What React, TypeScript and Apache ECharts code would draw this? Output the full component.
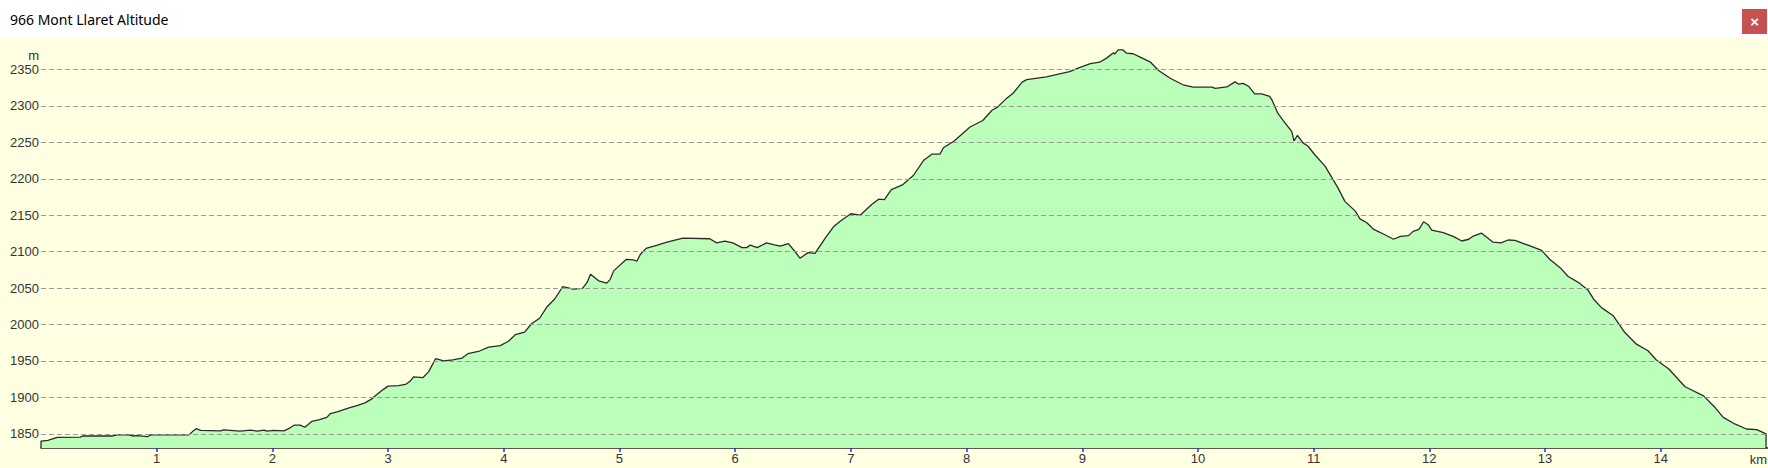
import React, { useEffect, useRef } from "react";
import * as echarts from "echarts";

const titleText = "966 Mont Llaret Altitude";
const baseAltitude = 1830.5;
const topAltitude = 2393.9;
const totalKm = 14.927;
const xTicks = [1, 2, 3, 4, 5, 6, 7, 8, 9, 10, 11, 12, 13, 14];
const yTicks = [1850, 1900, 1950, 2000, 2050, 2100, 2150, 2200, 2250, 2300, 2350];

const distanceKm = [
  0, 0, 0.06, 0.14, 0.34, 0.36, 0.62, 0.66, 0.76, 0.79, 0.83, 0.92, 0.95, 1.28, 1.31, 1.34, 1.38, 1.55, 1.58, 1.72,
  1.81, 1.87, 1.93, 1.95, 2.01, 2.1, 2.14, 2.19, 2.24, 2.28, 2.34, 2.4, 2.47, 2.5, 2.56, 2.61, 2.67, 2.73, 2.8, 2.86,
  2.9, 2.96, 3.0, 3.09, 3.15, 3.19, 3.22, 3.3, 3.35, 3.41, 3.48, 3.56, 3.64, 3.69, 3.79, 3.87, 3.97, 4.04, 4.1, 4.18,
  4.24, 4.31, 4.37, 4.44, 4.51, 4.6, 4.68, 4.72, 4.75, 4.82, 4.89, 4.92, 4.95, 5.06, 5.12, 5.15, 5.18, 5.23, 5.32, 5.41,
  5.55, 5.78, 5.84, 5.91, 5.98, 6.06, 6.1, 6.13, 6.19, 6.27, 6.33, 6.39, 6.46, 6.52, 6.56, 6.63, 6.69, 6.78, 6.85, 6.91,
  7.0, 7.08, 7.18, 7.24, 7.29, 7.35, 7.45, 7.54, 7.63, 7.7, 7.77, 7.8, 7.89, 8.03, 8.14, 8.22, 8.27, 8.35, 8.4, 8.48,
  8.52, 8.69, 8.89, 8.98, 9.07, 9.15, 9.21, 9.27, 9.28, 9.31, 9.35, 9.38, 9.44, 9.5, 9.59, 9.66, 9.76, 9.87, 9.96, 10.12,
  10.15, 10.25, 10.32, 10.35, 10.39, 10.44, 10.49, 10.55, 10.62, 10.64, 10.69, 10.75, 10.81, 10.83, 10.86, 10.91, 10.95, 11.01, 11.1, 11.16,
  11.21, 11.27, 11.36, 11.4, 11.46, 11.52, 11.62, 11.69, 11.75, 11.82, 11.86, 11.91, 11.95, 11.99, 12.02, 12.12, 12.21, 12.28, 12.34, 12.38,
  12.45, 12.55, 12.62, 12.68, 12.74, 12.87, 12.97, 13.04, 13.13, 13.2, 13.29, 13.37, 13.42, 13.49, 13.59, 13.69, 13.79, 13.89, 13.96, 14.07,
  14.21, 14.37, 14.47, 14.54, 14.64, 14.74, 14.83, 14.91, 14.91,
];

const altitudeM = [
  1830.5, 1840, 1841, 1845, 1845.4, 1847, 1847, 1848.6, 1848.6, 1847, 1847.5, 1846, 1848.6, 1848.6, 1853, 1857, 1854.6, 1854, 1855.5, 1853.7,
  1855, 1853.7, 1855, 1853.7, 1854.6, 1854, 1857, 1862, 1862, 1859, 1867, 1869, 1872.6, 1877.6, 1880, 1882.7, 1886, 1888.7, 1892.4, 1898,
  1903.5, 1911, 1915.4, 1916, 1917.7, 1922, 1928, 1927, 1935, 1953, 1950, 1951.4, 1954, 1960, 1963.6, 1969, 1971, 1977, 1986, 1989.5,
  2001, 2008.6, 2023.6, 2035, 2052, 2048.6, 2049.5, 2057.7, 2069, 2060, 2056.8, 2062, 2073.6, 2089.5, 2088.6, 2086.8, 2096, 2104.5, 2108.6, 2113,
  2118.6, 2117.7, 2112, 2114.5, 2112, 2105.5, 2105.5, 2109, 2105.5, 2112, 2109.5, 2107.7, 2111, 2099.5, 2091, 2098.6, 2097.7, 2119, 2134, 2142,
  2152, 2150, 2164.6, 2172, 2171.5, 2185, 2192, 2204.5, 2225.5, 2233.8, 2233.8, 2242.5, 2251.6, 2271, 2280, 2294, 2298.7, 2311, 2317, 2332.6,
  2336, 2340, 2347, 2353, 2358, 2360, 2365.6, 2373, 2371, 2377, 2377, 2372.5, 2371.6, 2367, 2360, 2348.6, 2338, 2329, 2325.7, 2325.7,
  2324, 2326, 2333, 2330, 2331, 2326.6, 2316.5, 2316.5, 2313, 2308, 2290, 2277, 2265, 2252, 2259.5, 2249, 2245, 2233, 2217, 2201,
  2187.5, 2169, 2155.6, 2145, 2139.6, 2130.5, 2122.8, 2117, 2121, 2122, 2127.8, 2130.5, 2141, 2137, 2129.6, 2126, 2120.7, 2114.6, 2117, 2121.4,
  2125.5, 2113, 2112, 2116, 2115.5, 2107.8, 2101.8, 2089.5, 2078, 2065.8, 2057.5, 2047.5, 2034.7, 2022.8, 2012, 1989, 1973, 1964, 1951.6, 1939,
  1914.6, 1902, 1886, 1872.6, 1863.5, 1856.6, 1855.7, 1850, 1830.5,
];

const profile = distanceKm.map((km, i) => [km, altitudeM[i]]);
const labelFont = "'Liberation Sans', Arial, sans-serif";

export default function App() {
  const ref = useRef<HTMLDivElement>(null);
  useEffect(() => {
    document.body.style.margin = "0";
    document.body.style.overflow = "hidden";
    const chart = echarts.init(ref.current!, undefined, { renderer: "svg" });
    chart.setOption({
      animation: false,
      backgroundColor: "#FFFFE1",
      title: {
        text: titleText,
        left: 5,
        top: 7,
        textStyle: { fontFamily: "'Noto Sans', sans-serif", fontSize: 14, fontWeight: "normal", color: "#000" },
      },
      grid: { left: 41, right: 0, top: 37.5, bottom: 20 },
      xAxis: {
        type: "value",
        min: 0,
        max: totalKm,
        interval: 1,
        splitLine: { show: false },
        axisLine: { show: true, onZero: false, lineStyle: { color: "#222", width: 1.5 } },
        axisTick: { show: true, customValues: xTicks, length: 4, lineStyle: { color: "#2a2ae0", width: 1.5 } },
        axisLabel: {
          customValues: xTicks,
          margin: 4,
          color: "#333",
          fontFamily: labelFont,
          fontSize: 13,
        },
      },
      yAxis: {
        type: "value",
        min: baseAltitude,
        max: topAltitude,
        axisLine: { show: false },
        axisTick: { show: false },
        axisLabel: {
          customValues: yTicks,
          margin: 2,
          color: "#333",
          fontFamily: labelFont,
          fontSize: 13,
          formatter: (v: number) => String(v),
        },
        splitLine: { show: false },
      },
      series: [
        {
          type: "line",
          data: profile,
          showSymbol: false,
          smooth: false,
          z: 1,
          clip: true,
          lineStyle: { color: "#2a2a2a", width: 1.3 },
          areaStyle: { color: "#BBFFBB", opacity: 1, origin: "start" },
          markLine: {
            silent: true,
            symbol: "none",
            label: { show: false },
            lineStyle: { color: "#999", width: 1.2, type: [5, 3] },
            data: yTicks.map((t) => ({ yAxis: t })),
          },
        },
      ],
      graphic: [
        { type: "rect", z: -1, shape: { x: 0, y: 0, width: 1768, height: 38 }, style: { fill: "#fff" } },
        { type: "rect", shape: { x: 1742, y: 9, width: 25, height: 25 }, style: { fill: "#C75050" } },
        {
          type: "text",
          x: 1754.5,
          y: 21,
          style: { text: "×", fill: "#fff", font: "bold 15px 'Liberation Sans', Arial, sans-serif", textAlign: "center", textVerticalAlign: "middle" },
        },
        {
          type: "text",
          x: 39,
          y: 55,
          style: { text: "m", fill: "#333", font: `13px ${labelFont}`, textAlign: "right", textVerticalAlign: "middle" },
        },
        {
          type: "text",
          x: 1767,
          y: 459,
          style: { text: "km", fill: "#333", font: `13px ${labelFont}`, textAlign: "right", textVerticalAlign: "middle" },
        },
      ],
    });
    return () => chart.dispose();
  }, []);
  return <div ref={ref} style={{ width: 1768, height: 468 }} />;
}
